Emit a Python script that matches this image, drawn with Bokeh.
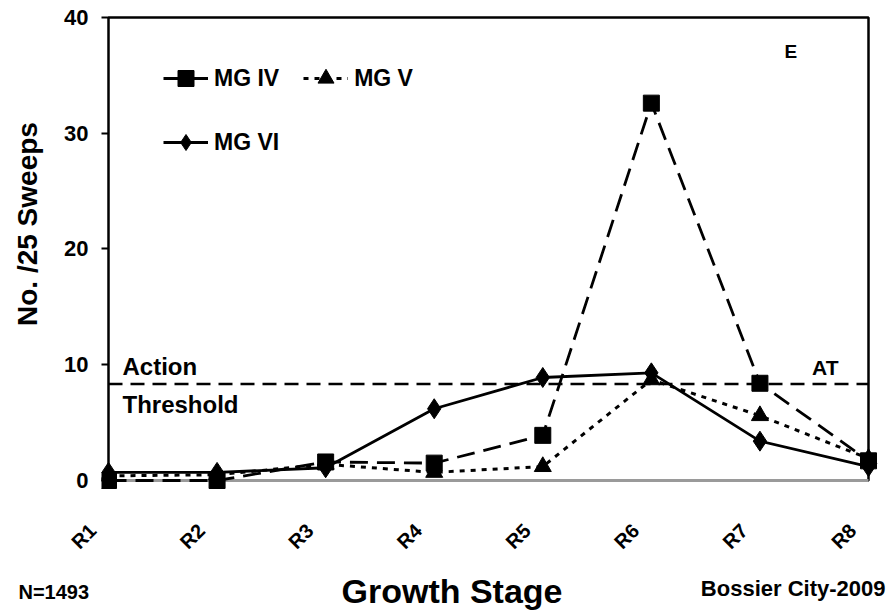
import math
from bokeh.plotting import figure
from bokeh.layouts import column, row
from bokeh.models import FixedTicker, Label, Legend, LegendItem, BoxAnnotation
from bokeh.embed import file_html
from bokeh.resources import INLINE

# ---- data ----
stages = ["R1", "R2", "R3", "R4", "R5", "R6", "R7", "R8"]
mg4 = [0.0, 0.0, 1.6, 1.5, 3.9, 32.6, 8.4, 1.7]
mg5 = [0.4, 0.5, 1.4, 0.7, 1.2, 8.7, 5.6, 1.9]
mg6 = [0.7, 0.7, 1.1, 6.2, 8.9, 9.3, 3.4, 1.2]
threshold = 8.33
y_ticks = [0, 10, 20, 30, 40]
series_names = ["MG IV", "MG V", "MG VI"]

xs = list(range(1, len(stages) + 1))
FONT = "Liberation Sans"

W, H = 889, 611          # whole page
LW = 50                  # left strip (y axis title)
H1 = 568                 # height of the top row
HB = H - H1              # bottom strip (bottom texts)

# ---------------- main plot ----------------
PW = W - LW
p = figure(width=PW, height=H1,
           x_range=(0.9355, 8.0921), y_range=(-1.0367, 40.259),
           output_backend="svg", toolbar_location=None,
           min_border_left=101 - LW, min_border_right=PW - (878 - LW),
           min_border_top=14, min_border_bottom=H1 - 492)
p.outline_line_color = None
p.grid.visible = False
p.background_fill_color = "white"
p.border_fill_color = "white"

box = BoxAnnotation(left=xs[0], right=xs[-1], bottom=y_ticks[0], top=y_ticks[-1],
                    fill_alpha=0, line_color="black", line_alpha=1.0,
                    line_width=2.5, level="underlay")
p.add_layout(box)
p.segment(x0=[xs[0]], y0=[y_ticks[0]], x1=[xs[-1]], y1=[y_ticks[0]],
          line_color="#9a9a9a", line_width=3)

# y axis
p.yaxis.ticker = FixedTicker(ticks=y_ticks)
p.yaxis.axis_line_color = None
p.yaxis.major_tick_in = 7
p.yaxis.major_tick_out = 0
p.yaxis.major_tick_line_width = 2
p.yaxis.major_tick_line_color = "black"
p.yaxis.minor_tick_line_color = None
p.yaxis.major_label_standoff = 13
p.yaxis.major_label_text_font = FONT
p.yaxis.major_label_text_font_style = "bold"
p.yaxis.major_label_text_font_size = "22px"
p.yaxis.major_label_text_color = "black"

# x axis: rotated stage labels (trailing no-break spaces push each label
# down-left of its stage, as in the original)
pad = "\u00a0" * 4
p.xaxis.ticker = FixedTicker(ticks=xs)
p.xaxis.major_label_overrides = {x: s + pad for x, s in zip(xs, stages)}
p.xaxis.major_label_orientation = math.pi / 4
p.xaxis.axis_line_color = None
p.xaxis.major_tick_line_color = None
p.xaxis.minor_tick_line_color = None
p.xaxis.major_label_standoff = 13
p.xaxis.major_label_text_font = FONT
p.xaxis.major_label_text_font_style = "bold"
p.xaxis.major_label_text_font_size = "20px"
p.xaxis.major_label_text_color = "black"

# action threshold
p.line([xs[0], xs[-1]], [threshold, threshold], line_color="black",
       line_width=2.5, line_dash="14 8")

# series
r4l = p.line(xs, mg4, line_color="black", line_width=2.8, line_dash="18 9")
r5l = p.line(xs, mg5, line_color="black", line_width=3, line_dash="5 6")
r6l = p.line(xs, mg6, line_color="black", line_width=2.8)
r4m = p.scatter(xs, mg4, marker="square", size=16, color="black")
r5m = p.scatter(xs, mg5, marker="triangle", size=17, color="black")
r6m = p.scatter(xs, mg6, marker="diamond", size=20, color="black")

legend = Legend(items=[LegendItem(label=series_names[0], renderers=[r4l, r4m]),
                       LegendItem(label=series_names[1], renderers=[r5l, r5m]),
                       LegendItem(label=series_names[2], renderers=[r6l, r6m])],
                location=(62, 330), orientation="horizontal", ncols=2,
                padding=0, margin=0, spacing=24,
                glyph_width=45, glyph_height=40, label_height=40, label_standoff=6,
                border_line_alpha=0, background_fill_alpha=0,
                label_text_font=FONT, label_text_font_style="bold",
                label_text_font_size="23px", label_text_color="black")
p.add_layout(legend)

def lab(fig, x, y, text, size, align="left", angle=0.0):
    fig.add_layout(Label(x=x, y=y, text=text, angle=angle,
                         text_font=FONT, text_font_style="bold",
                         text_font_size=size, text_align=align, text_baseline="middle",
                         text_color="black"))

lab(p, 1.129, 9.85, "Action", "24px")
lab(p, 1.129, 6.57, "Threshold", "24px")
lab(p, 7.724, 9.8, "AT", "21px", align="right")
lab(p, 7.226, 37.1, "E", "19px")

# ---------------- strips for outer texts ----------------
def strip(w, h):
    f = figure(width=w, height=h, x_range=(0, w), y_range=(0, h), title=None,
               output_backend="svg", toolbar_location=None,
               x_axis_type=None, y_axis_type=None,
               min_border_left=0, min_border_right=0, min_border_top=0, min_border_bottom=0)
    f.outline_line_color = None
    f.grid.visible = False
    f.background_fill_color = "white"
    f.border_fill_color = "white"
    return f

pL = strip(LW, H1)
lab(pL, 27, H1 - 249, "No. /25 Sweeps", "28px", align="center", angle=math.pi / 2)

pB = strip(W, HB)
lab(pB, 451.5, H - 590, "Growth Stage", "34px", align="center")
lab(pB, 18, H - 591.5, "N=1493", "20px")
lab(pB, 885, H - 588, "Bossier City-2009", "22px", align="right")

layout = column(row(pL, p, spacing=0), pB, spacing=0)
open("out.html", "w").write(file_html(layout, INLINE))
